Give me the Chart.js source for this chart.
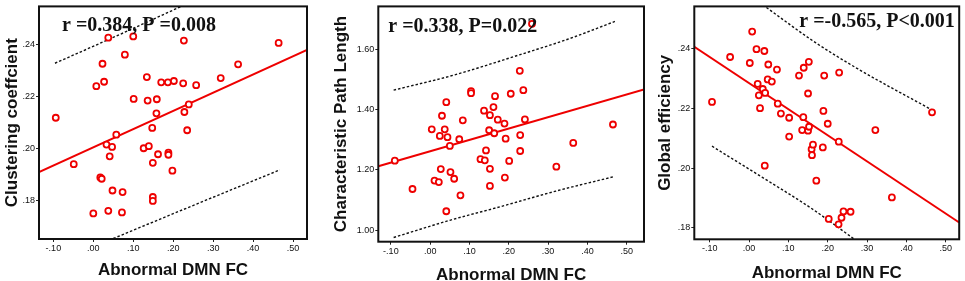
<!DOCTYPE html>
<html>
<head>
<meta charset="utf-8">
<script src="https://cdn.jsdelivr.net/npm/chart.js@4.4.0/dist/chart.umd.min.js"></script>
<style>
   body { margin: 0; background: #fff; width: 965px; height: 281px; overflow: hidden; position: relative; }
   .panel { position: absolute; top: 0; }
</style>
</head>
<body>
<div class="panel" style="left:0px"><canvas id="graphique1" width="320" height="290"></canvas></div>
<div class="panel" style="left:320px"><canvas id="graphique2" width="330" height="290"></canvas></div>
<div class="panel" style="left:650px"><canvas id="graphique3" width="315" height="290"></canvas></div>
<script>
// ---- donnees ----
const xTickValues = [-0.1, 0, 0.1, 0.2, 0.3, 0.4, 0.5];
const xTickLabels = ['-.10', '.00', '.10', '.20', '.30', '.40', '.50'];

// Panel 1 : Clustering coefficient
const fc1 = [-0.094, -0.049, 0.000, 0.0075, 0.0175, 0.021, 0.023, 0.027, 0.033, 0.0375, 0.0375, 0.041, 0.047, 0.048, 0.0575, 0.0717,
   0.0733, 0.079, 0.100, 0.101, 0.126, 0.134, 0.136, 0.139, 0.1475, 0.149, 0.149, 0.149, 0.158, 0.159, 0.162, 0.170, 0.1867,
   0.188, 0.188, 0.198, 0.2017, 0.225, 0.2267, 0.228, 0.235, 0.239, 0.2575, 0.319, 0.3625, 0.464];
const clustering = [0.2118, 0.1940, 0.1751, 0.2239, 0.1889, 0.1884, 0.2325, 0.2256, 0.2015, 0.2425, 0.1761, 0.1970, 0.2006, 0.1839, 0.2053, 0.1755,
   0.1833, 0.2360, 0.2430, 0.2190, 0.2001, 0.2274, 0.2184, 0.2009, 0.2079, 0.1945, 0.1814, 0.1799, 0.2135, 0.2189, 0.1978, 0.2254, 0.2254,
   0.1984, 0.1976, 0.1915, 0.2259, 0.2250, 0.2414, 0.2140, 0.2070, 0.2169, 0.2243, 0.2270, 0.2323, 0.2405];
const fitX1 = [-0.136, 0.535];
const fitY1 = [0.1910, 0.2378];
const upX1 = [-0.096, 0.0585, 0.23];
const upY1 = [0.2327, 0.2432, 0.2552];
const loX1 = [0.05, 0.2585, 0.467];
const loY1 = [0.1655, 0.1787, 0.1918];
const yTickValues1 = [0.18, 0.20, 0.22, 0.24];
const yTickLabels1 = ['.18', '.20', '.22', '.24'];

// Panel 2 : Characteristic Path Length
const fc2 = [-0.090, -0.045, 0.004, 0.011, 0.022, 0.0245, 0.027, 0.030, 0.037, 0.041, 0.044, 0.041, 0.050, 0.0516, 0.061, 0.074,
   0.077, 0.083, 0.104, 0.104, 0.128, 0.137, 0.139, 0.142, 0.150, 0.152, 0.152, 0.152, 0.161, 0.163, 0.165, 0.172, 0.189,
   0.190, 0.192, 0.201, 0.205, 0.228, 0.229, 0.229, 0.237, 0.241, 0.259, 0.321, 0.364, 0.465];
const pathLength = [1.231, 1.137, 1.335, 1.165, 1.160, 1.313, 1.203, 1.380, 1.335, 1.425, 1.309, 1.063, 1.280, 1.193, 1.171, 1.302,
   1.116, 1.365, 1.462, 1.455, 1.236, 1.397, 1.232, 1.265, 1.332, 1.382, 1.204, 1.147, 1.409, 1.322, 1.445, 1.367, 1.354,
   1.175, 1.304, 1.230, 1.453, 1.529, 1.316, 1.263, 1.465, 1.368, 1.685, 1.211, 1.290, 1.351];
const fitX2 = [-0.132, 0.544];
const fitY2 = [1.2126, 1.467];
const upX2 = [-0.093, 0.06, 0.229, 0.35, 0.47];
const upY2 = [1.465, 1.515, 1.583, 1.634, 1.693];
const loX2 = [-0.093, 0.05, 0.178, 0.32, 0.465];
const loY2 = [0.976, 1.033, 1.078, 1.130, 1.177];
const yTickValues2 = [1.0, 1.2, 1.4, 1.6];
const yTickLabels2 = ['1.00', '1.20', '1.40', '1.60'];

// Panel 3 : Global efficiency
const fc3 = [-0.094, -0.048, 0.002, 0.008, 0.019, 0.022, 0.025, 0.028, 0.035, 0.039, 0.041, 0.040, 0.0475, 0.049, 0.058, 0.071,
   0.073, 0.081, 0.102, 0.102, 0.127, 0.135, 0.138, 0.139, 0.150, 0.150, 0.1525, 0.152, 0.159, 0.160, 0.1625, 0.171, 0.1875,
   0.189, 0.191, 0.200, 0.2025, 0.2275, 0.228, 0.229, 0.235, 0.240, 0.258, 0.321, 0.363, 0.465];
const efficiency = [0.2221, 0.2371, 0.2351, 0.2456, 0.2397, 0.2281, 0.2243, 0.2200, 0.2264, 0.2391, 0.2251, 0.2008, 0.2296, 0.2346, 0.2289, 0.2329,
   0.2215, 0.2182, 0.2168, 0.2105, 0.2309, 0.2127, 0.2170, 0.2335, 0.2249, 0.2125, 0.2138, 0.2355, 0.2063, 0.2043, 0.2078, 0.1958, 0.2069,
   0.2191, 0.2309, 0.2148, 0.1830, 0.1812, 0.2088, 0.2319, 0.1834, 0.1855, 0.1854, 0.2127, 0.1902, 0.2186];
const fitX3 = [-0.139, 0.534];
const fitY3 = [0.2405, 0.1818];
const upX3 = [0.035, 0.169, 0.277, 0.465];
const upY3 = [0.2545, 0.2419, 0.2331, 0.2194];
const loX3 = [-0.094, 0.035, 0.160, 0.27];
const loY3 = [0.2073, 0.1968, 0.1864, 0.1760];
const yTickValues3 = [0.18, 0.20, 0.22, 0.24];
const yTickLabels3 = ['.18', '.20', '.22', '.24'];

const RED = 'rgb(238, 0, 0)';
const FONT = '"Liberation Sans", Arial, sans-serif';

function pts(xs, ys) {
   return xs.map((x, i) => ({ x: x, y: ys[i] }));
}

// cadre noir + texte r / P
const cadre = {
   id: 'cadre',
   afterDraw(chart, args, opts) {
      const c = chart.ctx, a = chart.chartArea;
      c.save();
      c.strokeStyle = '#111';
      c.lineWidth = 2;
      c.strokeRect(a.left, a.top, a.right - a.left, a.bottom - a.top);
      c.fillStyle = '#111';
      c.font = 'bold 20px "Liberation Serif", "Times New Roman", serif';
      c.textBaseline = 'alphabetic';
      c.textAlign = 'left';
      c.fillText(opts.text, a.left + opts.dx, a.top + opts.dy);
      c.restore();
   }
};

function graphique(element, p) {
   return new Chart(element, {
      type: 'scatter',
      data: {
         datasets: [
            {
               data: pts(p.xs, p.ys),
               pointStyle: 'circle',
               pointRadius: 3,
               borderWidth: 1.8,
               borderColor: RED,
               backgroundColor: '#fff',
               order: 0
            },
            {
               data: pts(p.fitX, p.fitY),
               showLine: true,
               pointRadius: 0,
               borderColor: RED,
               borderWidth: 2,
               order: 1
            },
            {
               data: pts(p.upX, p.upY),
               showLine: true,
               pointRadius: 0,
               borderColor: '#111',
               borderWidth: 1.4,
               borderDash: [2.5, 2],
               cubicInterpolationMode: 'monotone',
               order: 2
            },
            {
               data: pts(p.loX, p.loY),
               showLine: true,
               pointRadius: 0,
               borderColor: '#111',
               borderWidth: 1.4,
               borderDash: [2.5, 2],
               cubicInterpolationMode: 'monotone',
               order: 2
            }
         ]
      },
      options: {
         responsive: false,
         animation: false,
         devicePixelRatio: 1,
         layout: { padding: p.padding },
         scales: {
            x: {
               type: 'linear',
               min: p.xMin,
               max: p.xMax,
               afterBuildTicks: s => { s.ticks = xTickValues.map(v => ({ value: v })); },
               afterFit: s => { s.height = p.xHeight; },
               ticks: {
                  callback: (v, i) => xTickLabels[i],
                  font: { family: FONT, size: 9 },
                  color: '#111',
                  padding: 1,
                  maxRotation: 0,
                  autoSkip: false
               },
               grid: { drawOnChartArea: false, drawTicks: true, tickLength: 3, color: '#222' },
               border: { display: false },
               title: {
                  display: true,
                  text: 'Abnormal DMN FC',
                  color: '#111',
                  font: { family: FONT, size: 17, weight: 'bold', lineHeight: 1.2 },
                  padding: { top: 0, bottom: p.xTitlePad }
               }
            },
            y: {
               type: 'linear',
               min: p.yMin,
               max: p.yMax,
               afterBuildTicks: s => { s.ticks = p.yTickValues.map(v => ({ value: v })); },
               afterFit: s => { s.width = p.yWidth; },
               ticks: {
                  callback: (v, i) => p.yTickLabels[i],
                  font: { family: FONT, size: 9 },
                  color: '#111',
                  padding: 1,
                  autoSkip: false
               },
               grid: { drawOnChartArea: false, drawTicks: true, tickLength: 3, color: '#222' },
               border: { display: false },
               title: {
                  display: true,
                  text: p.yTitle,
                  color: '#111',
                  font: { family: FONT, size: 17, weight: 'bold', lineHeight: 1.2 },
                  padding: { top: p.yTitlePad, bottom: 0 }
               }
            }
         },
         plugins: {
            legend: { display: false },
            tooltip: { enabled: false },
            cadre: p.stat
         }
      },
      plugins: [cadre]
   });
}

graphique(document.getElementById('graphique1'), {
   xs: fc1, ys: clustering, fitX: fitX1, fitY: fitY1, upX: upX1, upY: upY1, loX: loX1, loY: loY1,
   xMin: -0.136, xMax: 0.535, yMin: 0.1653, yMax: 0.2545,
   yTickValues: yTickValues1, yTickLabels: yTickLabels1,
   yTitle: 'Clustering coeffcient',
   padding: { left: 0, right: 13, top: 1, bottom: 0 },
   yWidth: 39, xHeight: 51, yTitlePad: 2, xTitlePad: 9.8,
   stat: { text: 'r =0.384, P =0.008', dx: 23, dy: 25 }
});

graphique(document.getElementById('graphique2'), {
   xs: fc2, ys: pathLength, fitX: fitX2, fitY: fitY2, upX: upX2, upY: upY2, loX: loX2, loY: loY2,
   xMin: -0.132, xMax: 0.544, yMin: 0.962, yMax: 1.743,
   yTickValues: yTickValues2, yTickLabels: yTickLabels2,
   yTitle: 'Characteristic Path Length',
   padding: { left: 0, right: 6, top: 5, bottom: 0 },
   yWidth: 58.3, xHeight: 48.3, yTitlePad: 11.5, xTitlePad: 4.8,
   stat: { text: 'r =0.338, P=0.022', dx: 10, dy: 25.7 }
});

graphique(document.getElementById('graphique3'), {
   xs: fc3, ys: efficiency, fitX: fitX3, fitY: fitY3, upX: upX3, upY: upY3, loX: loX3, loY: loY3,
   xMin: -0.139, xMax: 0.534, yMin: 0.1762, yMax: 0.254,
   yTickValues: yTickValues3, yTickLabels: yTickLabels3,
   yTitle: 'Global efficiency',
   padding: { left: 0, right: 2.3, top: 3.3, bottom: 0 },
   yWidth: 44.3, xHeight: 50.7, yTitlePad: 4.8, xTitlePad: 6.8,
   stat: { text: 'r =-0.565, P<0.001', dx: 105, dy: 21 }
});
</script>
</body>
</html>
